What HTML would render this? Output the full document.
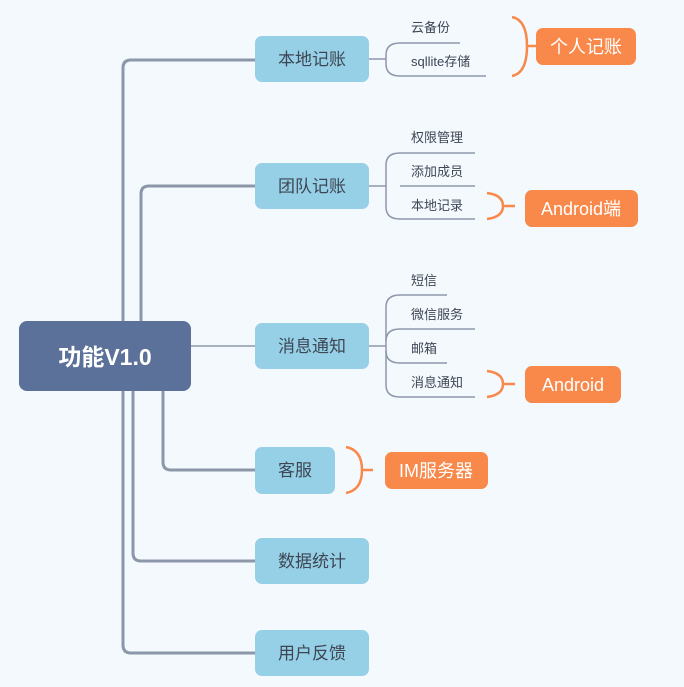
<!DOCTYPE html>
<html><head><meta charset="utf-8"><style>
body{margin:0;background:#f4f9fe;}
svg{display:block;}
text{font-family:"Liberation Sans","Noto Sans CJK SC",sans-serif;}
</style></head><body>
<svg width="684" height="687" viewBox="0 0 684 687" xmlns="http://www.w3.org/2000/svg">
<rect width="684" height="687" fill="#f4f9fe"/>
<g fill="none" stroke="#8d97aa" stroke-width="3">
<path d="M123 330 V68 Q123 60 131 60 H255"/>
<path d="M141 321 V194 Q141 186 149 186 H255"/>
<path d="M123 391 V645 Q123 653 131 653 H255"/>
<path d="M133 391 V553 Q133 561 141 561 H255"/>
<path d="M163 391 V462 Q163 470 171 470 H255"/>
</g>
<g fill="none" stroke="#8d97aa" stroke-width="1.5">
<path d="M191 346 H255"/>
<path d="M369 59 H386"/>
<path d="M400 43 Q386 43 386 55 V64 Q386 76 400 76"/>
<path d="M400 43 H460 M400 76 H486"/>
<path d="M369 186 H386 M400 186 H475"/>
<path d="M400 153 Q386 153 386 165 V207 Q386 219 400 219"/>
<path d="M400 153 H475 M400 219 H475"/>
<path d="M369 346 H386"/>
<path d="M400 295 Q386 295 386 307 V385 Q386 397 400 397"/>
<path d="M400 295 H447 M400 363 Q386 363 386 351 M386 341 Q386 329 400 329 H475 M400 363 H447 M400 397 H475"/>
</g>
<g fill="none" stroke="#f8894a" stroke-width="2.5">
<path d="M512 17 Q527 20 527 46 Q527 73 512 76 M527 46 H536"/>
<path d="M487 193 Q503 195 503 206 Q503 217 487 219 M503 206 H515"/>
<path d="M487 371 Q503 373 503 384 Q503 395 487 397 M503 384 H515"/>
<path d="M346 447 Q362 450 362 470 Q362 490 346 493 M362 470 H373"/>
</g>
<rect x="19" y="321" width="172" height="70" rx="8" fill="#5b7199"/>
<text x="105" y="365" text-anchor="middle" font-size="23" font-weight="bold" fill="#fff">功能V1.0</text>
<g fill="#96d0e6">
<rect x="255" y="36" width="114" height="46" rx="7"/>
<rect x="255" y="163" width="114" height="46" rx="7"/>
<rect x="255" y="323" width="114" height="46" rx="7"/>
<rect x="255" y="447" width="80" height="47" rx="7"/>
<rect x="255" y="538" width="114" height="46" rx="7"/>
<rect x="255" y="630" width="114" height="46" rx="7"/>
</g>
<g font-size="17" fill="#3e4654" text-anchor="middle">
<text x="312" y="65">本地记账</text>
<text x="312" y="192">团队记账</text>
<text x="312" y="352">消息通知</text>
<text x="295" y="476">客服</text>
<text x="312" y="567">数据统计</text>
<text x="312" y="659">用户反馈</text>
</g>
<g font-size="13" fill="#3e4654">
<text x="411" y="32">云备份</text>
<text x="411" y="66">sqllite存储</text>
<text x="411" y="142">权限管理</text>
<text x="411" y="176">添加成员</text>
<text x="411" y="210">本地记录</text>
<text x="411" y="285">短信</text>
<text x="411" y="319">微信服务</text>
<text x="411" y="353">邮箱</text>
<text x="411" y="387">消息通知</text>
</g>
<g fill="#f8894a">
<rect x="536" y="28" width="100" height="37" rx="7"/>
<rect x="525" y="190" width="113" height="37" rx="7"/>
<rect x="525" y="366" width="96" height="37" rx="7"/>
<rect x="385" y="452" width="103" height="37" rx="7"/>
</g>
<g font-size="18" fill="#fff" text-anchor="middle">
<text x="586" y="53">个人记账</text>
<text x="581" y="215">Android端</text>
<text x="573" y="391">Android</text>
<text x="436" y="477">IM服务器</text>
</g>
</svg>
</body></html>
